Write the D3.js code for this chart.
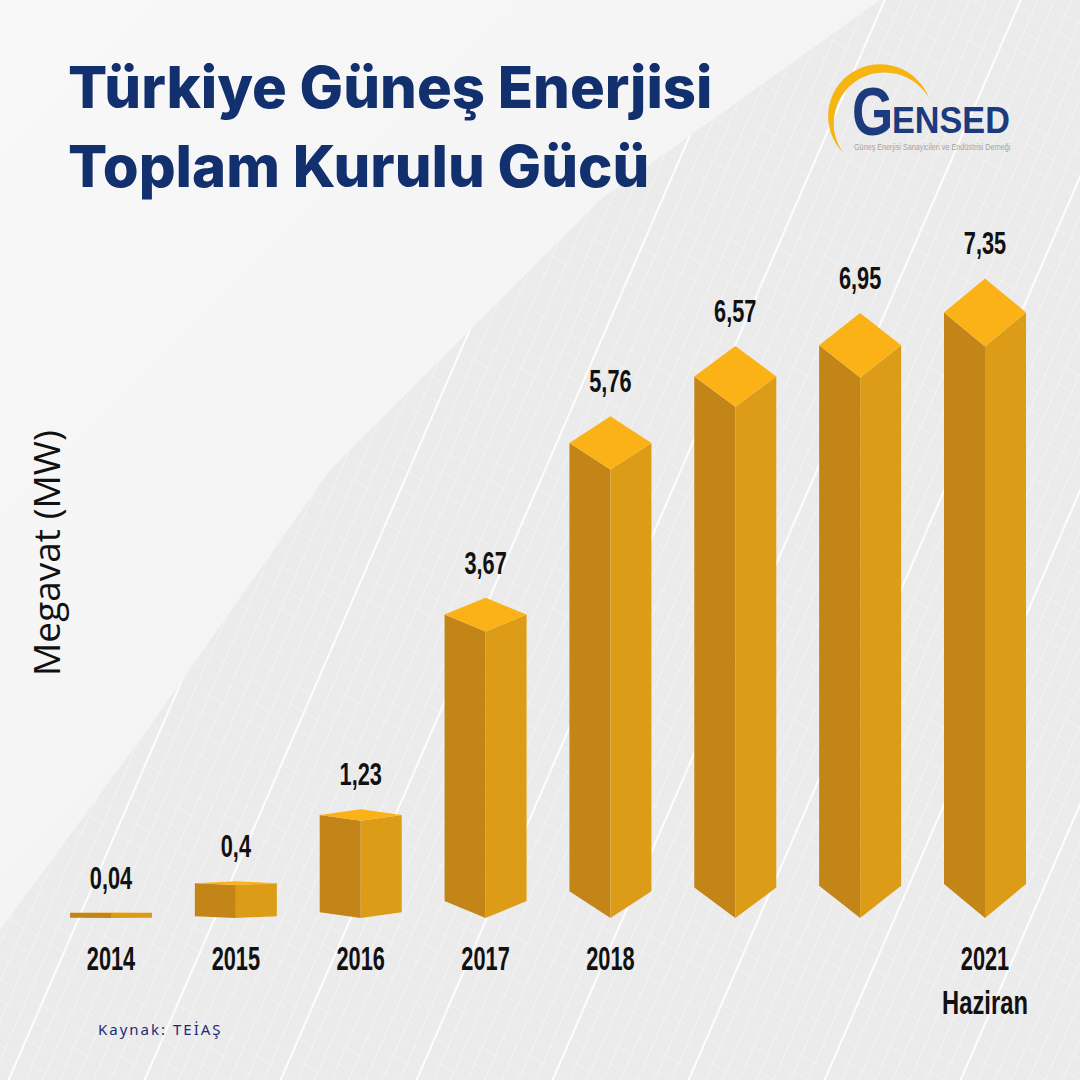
<!DOCTYPE html>
<html>
<head>
<meta charset="utf-8">
<script src="https://cdn.jsdelivr.net/npm/d3@7"></script>
<style>
  body { margin: 0; background: #f2f2f2; }
  svg { display: block; }
</style>
</head>
<body>
<div id="chart"></div>
<script>
// data (MW, as printed)
var years = ["2014", "2015", "2016", "2017", "2018", "2019", "2020", "2021"];
var values = [0.04, 0.4, 1.23, 3.67, 5.76, 6.57, 6.95, 7.35];
// only some years carry a label in the original
var yearLabels = ["2014", "2015", "2016", "2017", "2018", "", "", "2021"];
var yearSubLabels = ["", "", "", "", "", "", "", "Haziran"];

var titleLines = ["Türkiye Güneş Enerjisi", "Toplam Kurulu Gücü"];
var axisTitle = "Megavat (MW)";
var sourceText = "Kaynak: TEİAŞ";

const width = 1080, height = 1080;
const labelFont = "'Liberation Sans Narrow', 'Arial Narrow', 'Liberation Sans', sans-serif";

const svg = d3.select("#chart")
  .append("svg")
  .attr("width", width)
  .attr("height", height);

// ---- background: light sky + solar panel texture ----
const defs = svg.append("defs");
const bgGrad = defs.append("linearGradient")
  .attr("id", "bgGrad")
  .attr("x1", "0").attr("y1", "0").attr("x2", "1").attr("y2", "1");
bgGrad.append("stop").attr("offset", "0%").attr("stop-color", "#f8f8f8");
bgGrad.append("stop").attr("offset", "100%").attr("stop-color", "#efefef");

svg.append("rect")
  .attr("width", width).attr("height", height)
  .attr("fill", "url(#bgGrad)");

var panelEdge = [[880, 0], [600, 200], [330, 470], [140, 740], [0, 930], [0, 1080], [1080, 1080], [1080, 0]];
defs.append("clipPath").attr("id", "panelClip")
  .append("path")
  .attr("d", d3.line()(panelEdge) + "Z");

const panel = svg.append("g").attr("clip-path", "url(#panelClip)");
panel.append("rect")
  .attr("width", width).attr("height", height)
  .attr("fill", "#ebebeb");

// steep cell lines going up to the right
for (let i = -60; i < 100; i++) {
  let x0 = i * 17;
  panel.append("line")
    .attr("x1", x0).attr("y1", 1100)
    .attr("x2", x0 + 520).attr("y2", -100)
    .attr("stroke", "#fff")
    .attr("stroke-opacity", i % 8 == 0 ? 0.85 : 0.55)
    .attr("stroke-width", i % 8 == 0 ? 2.2 : 0.8);
}
// shallow cell lines going down to the right
for (let i = -70; i < 90; i++) {
  let y0 = i * 22;
  panel.append("line")
    .attr("x1", -50).attr("y1", y0)
    .attr("x2", 1130).attr("y2", y0 + 760)
    .attr("stroke", "#fff")
    .attr("stroke-opacity", 0.4)
    .attr("stroke-width", 0.7);
}

// ---- title ----
svg.append("g")
  .selectAll("text")
  .data(titleLines)
  .enter().append("text")
  .attr("x", 68)
  .attr("y", (d, i) => 108 + i * 79)
  .attr("font-family", "Inter, 'Open Sans', sans-serif")
  .attr("font-weight", 800)
  .attr("font-size", 58)
  .attr("fill", "#12306e")
  .text(d => d);

// ---- logo ----
const logo = svg.append("g");
logo.append("path")
  .attr("d", "M843,152.6 A52,52 0 1 1 928.9,98.2 A50.9,50.9 0 1 0 843,152.6 Z")
  .attr("fill", "#f7b512");
logo.append("text")
  .attr("transform", "translate(852,135) scale(0.78,1)")
  .attr("font-family", "'Liberation Sans', Arial, sans-serif")
  .attr("font-weight", 700)
  .attr("font-size", 68)
  .attr("fill", "#1c3a7e")
  .text("G");
logo.append("text")
  .attr("transform", "translate(892,133) scale(0.95,1)")
  .attr("font-family", "'Liberation Sans', Arial, sans-serif")
  .attr("font-weight", 700)
  .attr("font-size", 36)
  .attr("fill", "#1c3a7e")
  .text("ENSED");
logo.append("text")
  .attr("transform", "translate(854,150) scale(0.86,1)")
  .attr("font-family", labelFont)
  .attr("font-size", 8.4)
  .attr("fill", "#a3a3a3")
  .text("Güneş Enerjisi Sanayicileri ve Endüstrisi Derneği");

// ---- scales ----
var x = d3.scalePoint()
  .domain(years)
  .range([111, 985]);

// y of the front top corner of each prism
var y = d3.scaleLinear()
  .domain([0, 8])
  .range([916, 916 - 8 * 77.5]);

// half height of the top diamond / bottom point, grows with the bar
var depth = d3.scaleLinear()
  .domain([0, 8])
  .range([0, 37]);

const halfW = 41;
const bottomFront = y(0) + 2;

var bars = years.map((yr, i) => {
  let cx = x(yr), v = values[i];
  let yT = y(v), h = depth(v), yB = bottomFront;
  return { cx, v, yT, h, yB, i };
});

// left (shaded) face
svg.append("g")
  .selectAll("path")
  .data(bars)
  .enter().append("path")
  .attr("d", d => d3.line()([
    [d.cx - halfW, d.yT - d.h], [d.cx, d.yT], [d.cx, d.yB], [d.cx - halfW, d.yB - d.h]
  ]) + "Z")
  .attr("fill", "#c38418");

// right face
svg.append("g")
  .selectAll("path")
  .data(bars)
  .enter().append("path")
  .attr("d", d => d3.line()([
    [d.cx, d.yT], [d.cx + halfW, d.yT - d.h], [d.cx + halfW, d.yB - d.h], [d.cx, d.yB]
  ]) + "Z")
  .attr("fill", "#dd9c18");

// top diamond
svg.append("g")
  .selectAll("path")
  .data(bars)
  .enter().append("path")
  .attr("d", d => d3.line()([
    [d.cx - halfW, d.yT - d.h], [d.cx, d.yT - 2 * d.h], [d.cx + halfW, d.yT - d.h], [d.cx, d.yT]
  ]) + "Z")
  .attr("fill", "#fbb217");

// value labels
svg.append("g")
  .selectAll("g")
  .data(bars)
  .enter().append("g")
  .attr("transform", d => "translate(" + d.cx + "," + (d.yT - 2 * d.h - 24) + ")")
  .append("text")
  .attr("transform", "scale(0.68,1)")
  .attr("text-anchor", "middle")
  .attr("font-family", labelFont)
  .attr("font-weight", 700)
  .attr("font-size", 32)
  .attr("fill", "#111")
  .text(d => String(d.v).replace(".", ","));

// year labels
svg.append("g")
  .selectAll("g")
  .data(bars)
  .enter().append("g")
  .attr("transform", d => "translate(" + d.cx + ",970)")
  .append("text")
  .attr("transform", "scale(0.66,1)")
  .attr("text-anchor", "middle")
  .attr("font-family", labelFont)
  .attr("font-weight", 700)
  .attr("font-size", 33)
  .attr("fill", "#111")
  .text(d => yearLabels[d.i]);

svg.append("g")
  .selectAll("g")
  .data(bars.filter(d => yearSubLabels[d.i] != ""))
  .enter().append("g")
  .attr("transform", d => "translate(" + d.cx + ",1014)")
  .append("text")
  .attr("transform", "scale(0.72,1)")
  .attr("text-anchor", "middle")
  .attr("font-family", labelFont)
  .attr("font-weight", 700)
  .attr("font-size", 33)
  .attr("fill", "#111")
  .text(d => yearSubLabels[d.i]);

// axis title
svg.append("text")
  .attr("transform", "translate(60,553) rotate(-90)")
  .attr("text-anchor", "middle")
  .attr("font-family", "'Open Sans', sans-serif")
  .attr("font-weight", 500)
  .attr("font-size", 37)
  .attr("fill", "#111")
  .text(axisTitle);

// source
svg.append("text")
  .attr("x", 98).attr("y", 1035)
  .attr("font-family", "'Noto Sans', sans-serif")
  .attr("font-size", 15)
  .attr("letter-spacing", 2)
  .attr("fill", "#1b2b78")
  .text(sourceText);
</script>
</body>
</html>
